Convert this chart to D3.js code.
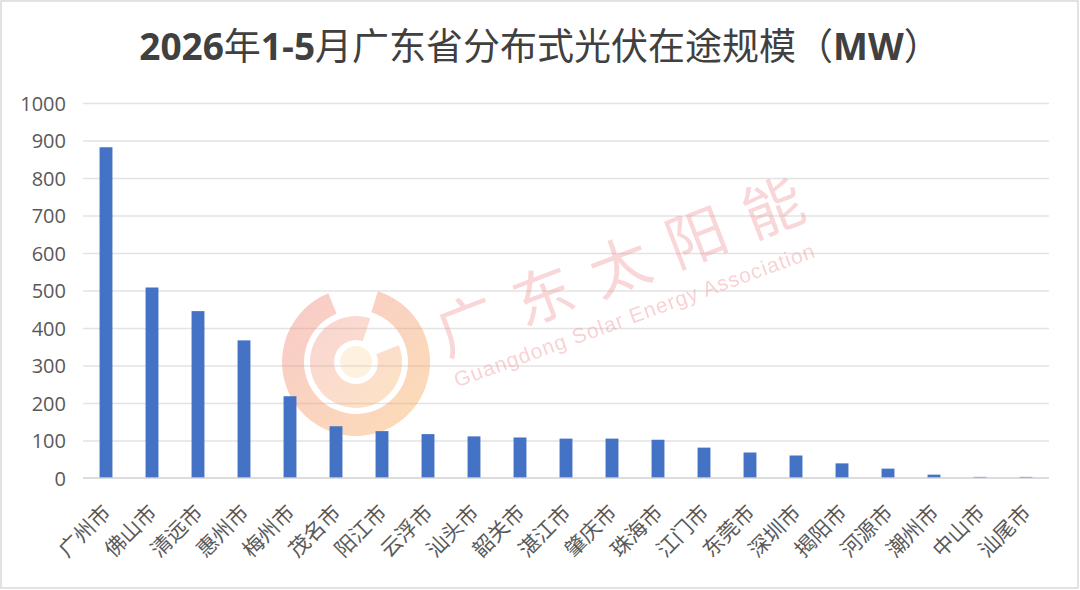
<!DOCTYPE html>
<html>
<head>
<meta charset="utf-8">
<script src="https://cdn.jsdelivr.net/npm/d3@7"></script>
<style>
  html, body { margin: 0; padding: 0; background: #fff; }
  #svg { width: 1080px; height: 590px; display: block; }
  .grid line { stroke: #e3e3e3; stroke-width: 1.5; }
  .grid path { display: none; }
</style>
</head>
<body>
<svg id="svg" width="1080" height="590"></svg>
<script>
var cities = ["广州市", "佛山市", "清远市", "惠州市", "梅州市", "茂名市", "阳江市",
  "云浮市", "汕头市", "韶关市", "湛江市", "肇庆市", "珠海市", "江门市", "东莞市",
  "深圳市", "揭阳市", "河源市", "潮州市", "中山市", "汕尾市"];
var capacity = [882, 508, 445, 367, 218, 138, 125, 117, 111, 108, 105, 105, 102, 81,
  68, 60, 39, 25, 9, 3, 3];
var yTicks = [0, 100, 200, 300, 400, 500, 600, 700, 800, 900, 1000];

var svg = d3.select("#svg");
var padding = { top: 103, right: 31, bottom: 112, left: 83 };
var chartArea = {
  width: 1080 - padding.left - padding.right,
  height: 590 - padding.top - padding.bottom,
};
var cjk = "'Noto Sans CJK SC', 'Noto Sans', sans-serif";
var latin = "'Open Sans', 'Noto Sans', sans-serif";

// outer frame
svg.append("rect")
  .attr("x", 1).attr("y", 1)
  .attr("width", 1077).attr("height", 587)
  .attr("fill", "#fff")
  .attr("stroke", "#d9d9d9")
  .attr("stroke-width", 1.5);

var yScale = d3.scaleLinear().domain([0, 1000]).range([chartArea.height, 0]);
var xScale = d3.scaleBand().domain(cities).range([0, chartArea.width])
  .paddingInner(0.72).paddingOuter(0.36);

// title
var title = svg.append("text")
  .attr("x", 540).attr("y", 60)
  .attr("text-anchor", "middle")
  .attr("font-size", 37)
  .attr("fill", "#404040");
[["2026", true], ["年", false], ["1-5", true], ["月广东省分布式光伏在途规模（", false],
  ["MW", true], ["）", false]].forEach(function (p) {
  title.append("tspan")
    .attr("font-family", p[1] ? "'Open Sans', 'Noto Sans', sans-serif" : cjk)
    .attr("font-weight", p[1] ? "bold" : "normal")
    .text(p[0]);
});

//grid
svg.append("g")
  .attr("class", "grid")
  .attr("transform", "translate(" + padding.left + "," + padding.top + ")")
  .call(d3.axisLeft(yScale).tickValues(yTicks.slice(1)).tickSize(-chartArea.width).tickFormat(""));

// watermark
var wm = svg.append("g").attr("opacity", 0.45);
var defs = svg.append("defs");
var grad = defs.append("linearGradient").attr("id", "swirl")
  .attr("x1", "0").attr("y1", "0").attr("x2", "1").attr("y2", "1");
grad.append("stop").attr("offset", "0").attr("stop-color", "#f08a8a");
grad.append("stop").attr("offset", "1").attr("stop-color", "#f7b35a");
var swirl = wm.append("g").attr("transform", "translate(356,362)");
swirl.append("path")
  .attr("d", d3.arc()({ innerRadius: 52, outerRadius: 74, startAngle: 0.3, endAngle: 5.9 }))
  .attr("fill", "url(#swirl)");
swirl.append("path")
  .attr("d", d3.arc()({ innerRadius: 22, outerRadius: 46, startAngle: 1.2, endAngle: 6.6 }))
  .attr("fill", "url(#swirl)")
  .attr("opacity", 0.8);
swirl.append("circle").attr("r", 16).attr("fill", "#fbd49a").attr("opacity", 0.7);
wm.append("text")
  .attr("transform", "translate(638,283) rotate(-21)")
  .attr("text-anchor", "middle")
  .attr("font-family", cjk)
  .attr("font-size", 60)
  .attr("letter-spacing", 22)
  .attr("fill", "#ee8c92")
  .attr("opacity", 0.8)
  .text("广东太阳能");
wm.append("text")
  .attr("transform", "translate(637,322) rotate(-20)")
  .attr("text-anchor", "middle")
  .attr("font-family", "'Liberation Sans', Arial, sans-serif")
  .attr("font-size", 21)
  .attr("letter-spacing", 1)
  .attr("fill", "#f09a9f")
  .text("Guangdong Solar Energy Association");

//bars
var rectGrp = svg.append("g")
  .attr("transform", "translate(" + padding.left + "," + padding.top + ")");
rectGrp.selectAll("rect")
  .data(capacity)
  .enter()
  .append("rect")
  .attr("x", function (d, i) { return xScale(cities[i]); })
  .attr("y", function (d) { return yScale(d); })
  .attr("width", xScale.bandwidth())
  .attr("height", function (d) { return chartArea.height - yScale(d); })
  .attr("fill", "#4472c4");

// baseline
svg.append("line")
  .attr("x1", padding.left).attr("x2", padding.left + chartArea.width)
  .attr("y1", padding.top + yScale(0)).attr("y2", padding.top + yScale(0))
  .attr("stroke", "#d0d0d0").attr("stroke-width", 1.5);

//y-axis
var yAxis = svg.append("g")
  .attr("transform", "translate(" + (padding.left - 14) + "," + padding.top + ")")
  .call(d3.axisLeft(yScale).tickValues(yTicks).tickSize(0).tickFormat(d3.format("d")));
yAxis.select(".domain").remove();
yAxis.selectAll("text")
  .attr("font-family", latin)
  .attr("font-size", 20)
  .attr("fill", "#595959")
  .attr("dy", "0.35em");

//x-axis
var xAxis = svg.append("g")
  .attr("transform", "translate(" + padding.left + "," + (padding.top + chartArea.height) + ")")
  .call(d3.axisBottom(xScale).tickSize(0));
xAxis.select(".domain").remove();
xAxis.selectAll("text")
  .attr("font-family", cjk)
  .attr("font-size", 21)
  .attr("fill", "#595959")
  .attr("text-anchor", "end")
  .attr("y", 0)
  .attr("dy", 0)
  .attr("transform", "translate(6,36) rotate(-45)");
</script>
</body>
</html>
